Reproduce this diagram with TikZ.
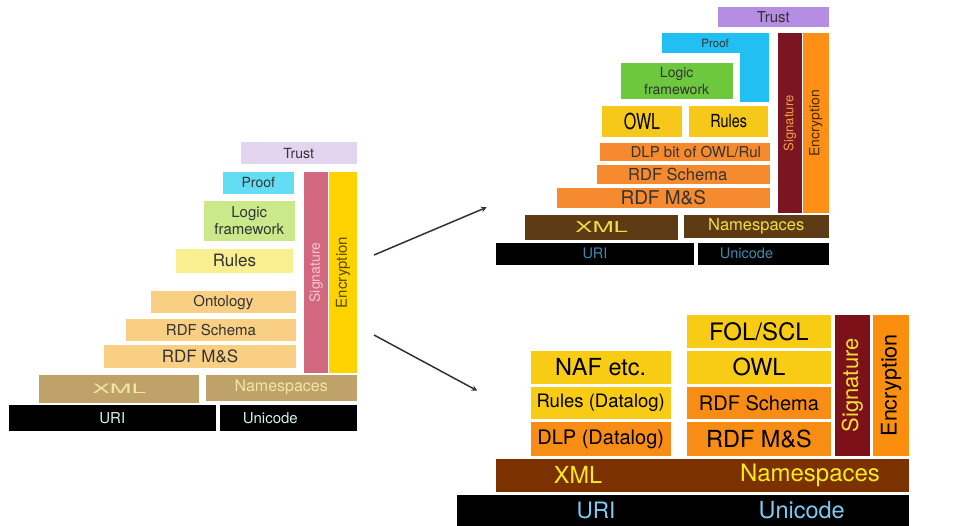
\documentclass[tikz,border=0pt]{standalone}
\usepackage{fontspec}
\setmainfont{TeX Gyre Heros}
\usepackage{xcolor}
\usepackage{tikz}
\usetikzlibrary{arrows,shapes,positioning}

\definecolor{txtc}{HTML}{333333}
\definecolor{trustc1}{HTML}{E3D5F0}
\definecolor{proofc1}{HTML}{62DDF3}
\definecolor{logicc1}{HTML}{C9E98B}
\definecolor{rulesc1}{HTML}{F9EE90}
\definecolor{rdfc1}{HTML}{F9D083}
\definecolor{sigc1}{HTML}{D2687F}
\definecolor{sigtxt1}{HTML}{F5C8CF}
\definecolor{encc1}{HTML}{FFD300}
\definecolor{enctxt1}{HTML}{5A4A00}
\definecolor{xmlc1}{HTML}{BEA26A}
\definecolor{xmltxt1}{HTML}{F3E6A3}
\definecolor{uritxt1}{HTML}{D5EFEF}
\definecolor{trustc2}{HTML}{B58DE3}
\definecolor{proofc2}{HTML}{22BFF2}
\definecolor{logicc2}{HTML}{6EC83E}
\definecolor{yelc2}{HTML}{F5C81A}
\definecolor{orac2}{HTML}{F68A2E}
\definecolor{sigc2}{HTML}{7B1522}
\definecolor{sigtxt2}{HTML}{EFA043}
\definecolor{encc2}{HTML}{FF8F16}
\definecolor{enctxt2}{HTML}{4A2A00}
\definecolor{xmlc2}{HTML}{5D3B15}
\definecolor{xmltxt2}{HTML}{F1DE45}
\definecolor{uritxt2}{HTML}{3C8BB2}
\definecolor{yelc3}{HTML}{F8CB14}
\definecolor{orac3}{HTML}{F78D14}
\definecolor{sigc3}{HTML}{7C1119}
\definecolor{sigtxt3}{HTML}{F2E22E}
\definecolor{encc3}{HTML}{FA8E0E}
\definecolor{xmlc3}{HTML}{7B3100}
\definecolor{xmltxt3}{HTML}{F7EA1E}
\definecolor{uritxt3}{HTML}{7DCBF3}

\newcommand{\fsz}[1]{\fontsize{#1}{#1}\selectfont}

\begin{document}
\begin{tikzpicture}[x=1pt, y=-1pt,
  blk/.style={rectangle, inner sep=0pt, align=center, text=txtc},
  vert/.style={blk, rotate=90},
  bar/.style={rectangle, inner sep=0pt}]
\useasboundingbox (0,0) rectangle (956,526);

% Left stack
\node[blk, minimum width=116pt, minimum height=22pt, fill=trustc1, font=\fsz{14}] (trust1) at (298.7,153.3) {Trust};
\node[blk, minimum width=71.3pt, minimum height=22.3pt, fill=proofc1, font=\fsz{14}] (proof1) at (258.3,182.8) {Proof};
\node[blk, minimum width=90.7pt, minimum height=40.3pt, fill=logicc1, font=\fontsize{15}{17}\selectfont] (logic1) at (249.3,220.8) {Logic\\framework};
\node[blk, minimum width=117.6pt, minimum height=23.7pt, fill=rulesc1, font=\fsz{17}] (rules1) at (234.5,260.8) {Rules};
\node[blk, minimum width=145.3pt, minimum height=22.3pt, fill=rdfc1, font=\fsz{15}] (onto1) at (223.3,302.2) {Ontology};
\node[blk, minimum width=170pt, minimum height=22pt, fill=rdfc1, font=\fsz{15}] (rdfs1) at (211,329.7) {RDF Schema};
\node[blk, minimum width=192pt, minimum height=22.7pt, fill=rdfc1, font=\fsz{17}] (rdfms1) at (200,356.3) {RDF M\&S};
\node[vert, minimum width=201.6pt, minimum height=24.3pt, fill=sigc1, text=sigtxt1, font=\fsz{14}] (sig1) at (316.2,272.5) {Signature};
\node[vert, minimum width=201.6pt, minimum height=27.4pt, fill=encc1, text=enctxt1, font=\fsz{15}] (enc1) at (343,272.5) {Encryption};
\node[blk, minimum width=160pt, minimum height=28.3pt, fill=xmlc1, text=xmltxt1, font=\fsz{13}] (xml1) at (119.3,389.2) {\scalebox{2}[1]{XML}};
\node[blk, minimum width=151pt, minimum height=25.7pt, fill=xmlc1, text=xmltxt1, font=\fsz{16}] (ns1) at (281.2,387.8) {Namespaces};
\node[blk, minimum width=206.7pt, minimum height=25.7pt, fill=black, text=uritxt1, font=\fsz{15}] (uri1) at (112.3,418.2) {URI};
\node[blk, minimum width=136.7pt, minimum height=25.7pt, fill=black, text=uritxt1, font=\fsz{15}] (uni1) at (288.3,418.2) {Unicode\hspace*{36pt}};

% Top right stack
\node[blk, minimum width=110.7pt, minimum height=20pt, fill=trustc2, font=\fsz{15}] (trust2) at (773.3,17.3) {Trust};
\node[blk, minimum width=107pt, minimum height=20pt, fill=proofc2, font=\fsz{11.5}] (proof2) at (715.2,43.3) {Proof};
\fill[proofc2] (proof2.south east) rectangle (740,101.7);
\node[blk, minimum width=112pt, minimum height=35.4pt, fill=logicc2, font=\fontsize{14}{16.7}\selectfont] (logic2) at (676.7,81) {Logic\\framework};
\node[blk, minimum width=80.6pt, minimum height=31.3pt, fill=yelc2, text=black, font=\fsz{22}] (owl2) at (642,121.7) {\scalebox{0.73}[1]{OWL}};
\node[blk, minimum width=78.7pt, minimum height=30.7pt, fill=yelc2, text=black, font=\fsz{18}] (rules2) at (728.7,121.3) {\scalebox{0.8}[1]{Rules}};
\node[blk, minimum width=170pt, minimum height=17.4pt, fill=orac2, font=\fsz{15}] (dlp2) at (685,152) {\hspace*{21.6pt}DLP bit of OWL/Rul};
\node[blk, minimum width=172.7pt, minimum height=19pt, fill=orac2, font=\fsz{16.5}] (rdfs2) at (683.7,174.5) {RDF Schema\hspace*{12pt}};
\node[blk, minimum width=213.3pt, minimum height=20.6pt, fill=orac2, font=\fsz{19}] (rdfms2) at (663.3,198) {RDF M\&S};
\node[vert, minimum width=180pt, minimum height=23.4pt, fill=sigc2, text=sigtxt2, font=\fsz{13}] (sig2) at (790,123.3) {Signature};
\node[vert, minimum width=180pt, minimum height=26pt, fill=encc2, text=enctxt2, font=\fsz{14}] (enc2) at (815.7,123.3) {Encryption};
\node[blk, minimum width=153.3pt, minimum height=25pt, fill=xmlc2, text=xmltxt2, font=\fsz{15}] (xml2) at (601.7,227.5) {\scalebox{1.7}[1]{XML}};
\node[blk, minimum width=144.7pt, minimum height=23.3pt, fill=xmlc2, text=xmltxt2, font=\fsz{16.5}] (ns2) at (756.3,226.7) {Namespaces};
\node[blk, minimum width=198pt, minimum height=22.3pt, fill=black, text=uritxt2, font=\fsz{14.5}] (uri2) at (595,253.8) {URI};
\node[blk, minimum width=130.4pt, minimum height=22.3pt, fill=black, text=uritxt2, font=\fsz{14.5}] (uni2) at (763.5,253.8) {Unicode\hspace*{34pt}};

% Bottom right stack
\node[blk, minimum width=143.4pt, minimum height=32.7pt, fill=yelc3, text=black, font=\fsz{24}] (fol3) at (759,331.3) {FOL/SCL};
\node[blk, minimum width=143.4pt, minimum height=32.7pt, fill=yelc3, text=black, font=\fsz{23.5}] (owl3) at (759,367.3) {OWL};
\node[blk, minimum width=143.4pt, minimum height=32.6pt, fill=orac3, text=black, font=\fsz{20}] (rdfs3) at (759,403) {RDF Schema};
\node[blk, minimum width=143.4pt, minimum height=33.4pt, fill=orac3, text=black, font=\fsz{23.5}] (rdfms3) at (759,439) {RDF M\&S};
\node[blk, minimum width=140pt, minimum height=32.7pt, fill=yelc3, text=black, font=\fsz{23.5}] (naf3) at (600.7,367.3) {NAF etc.};
\node[blk, minimum width=140pt, minimum height=32.6pt, fill=yelc3, text=black, font=\fsz{18.5}] (rules3) at (600.7,403) {Rules (Datalog)};
\node[blk, minimum width=140pt, minimum height=33.4pt, fill=orac3, text=black, font=\fsz{20}] (dlp3) at (600.7,439) {DLP (Datalog)};
\node[vert, minimum width=140.7pt, minimum height=35.3pt, fill=sigc3, text=sigtxt3, font=\fsz{22}] (sig3) at (852.3,385.3) {Signature};
\node[vert, minimum width=140.7pt, minimum height=35.4pt, fill=encc3, text=black, font=\fsz{21.5}] (enc3) at (891,385.3) {Encryption};
\node[bar, minimum width=412.7pt, minimum height=32.7pt, fill=xmlc3] (xmlbar3) at (702.3,475.3) {};
\node[blk, text=xmltxt3, font=\fsz{23.5}] (xml3) at (578,475.3) {XML};
\node[blk, text=xmltxt3, font=\fsz{24}] (ns3) at (810,475.3) {Namespaces};
\node[bar, minimum width=452pt, minimum height=31pt, fill=black] (uribar3) at (682.7,510.5) {};
\node[blk, text=uritxt3, font=\fsz{22.6}] (uri3) at (596,510.5) {URI};
\node[blk, text=uritxt3, font=\fsz{23.5}] (uni3) at (801.7,510.5) {Unicode};

% Arrows
\coordinate (up1) at (374,255);
\coordinate (up2) at (486.7,207.3);
\coordinate (dn1) at (374,335);
\coordinate (dn2) at (477.3,390.7);
\draw[-stealth, line width=1.5pt, draw=txtc] (up1) -- (up2);
\draw[-stealth, line width=1.5pt, draw=txtc] (dn1) -- (dn2);

\end{tikzpicture}
\end{document}
